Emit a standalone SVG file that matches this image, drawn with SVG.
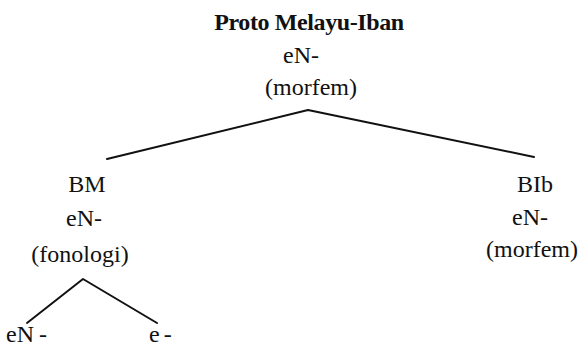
<svg xmlns="http://www.w3.org/2000/svg" width="583" height="347" viewBox="0 0 583 347">
<style>
text{font-family:'Liberation Serif','Times New Roman',serif;font-size:24px;fill:#111;text-anchor:middle}
.b{font-weight:bold;letter-spacing:-0.4px}
.l{text-anchor:start}
.c{fill:none;stroke:#111;stroke-width:2;stroke-linecap:round;stroke-linejoin:round}
</style>
<rect width="583" height="347" fill="#fff"/>
<g id="connectors">
<polyline class="c" points="107,159 308,110 534,157"/>
<polyline class="c" points="27,323 83,279 157,323"/>
</g>
<g id="proto">
<text class="b" x="309" y="30">Proto Melayu-Iban</text>
<text x="301" y="63">eN-</text>
<text x="311" y="95">(morfem)</text>
</g>
<g id="bm">
<text x="87" y="192">BM</text>
<text x="84" y="226">eN-</text>
<text x="80" y="262">(fonologi)</text>
</g>
<g id="bib">
<text x="535" y="192">BIb</text>
<text x="530" y="225">eN-</text>
<text x="532" y="257">(morfem)</text>
</g>
<g id="en">
<text class="l" x="6" y="342">eN<tspan dx="5">-</tspan></text>
</g>
<g id="e">
<text class="l" x="149" y="342">e<tspan dx="4">-</tspan></text>
</g>
</svg>
